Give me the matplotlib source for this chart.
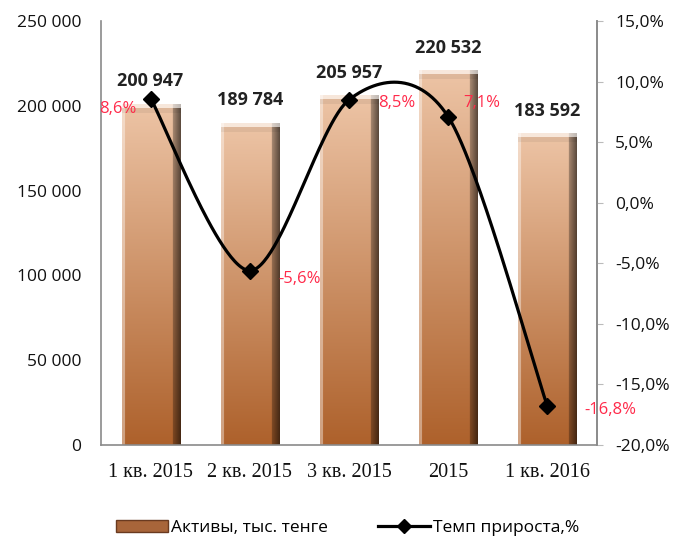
import numpy as np
import matplotlib.pyplot as plt
from matplotlib.patches import Patch
from matplotlib.lines import Line2D

# data
categories = ['1 кв. 2015', '2 кв. 2015', '3 кв. 2015', '2015', '1 кв. 2016']
assets = [200947, 189784, 205957, 220532, 183592]
growth = [8.6, -5.6, 8.5, 7.1, -16.8]
pct_labels = ['8,6%', '-5,6%', '8,5%', '7,1%', '-16,8%']
# label offsets in pixels (as placed in the original)
pct_offsets = [(-33, -10), (50, -8), (48, -3), (34, 14), (63, -4)]

left_ticks = [0, 50000, 100000, 150000, 200000, 250000]
right_ticks = [-20, -15, -10, -5, 0, 5, 10, 15]

SANS = ['Open Sans', 'DejaVu Sans']
SERIF = ['Liberation Serif', 'DejaVu Serif']


def fmt_thousands(v):
    return '{:,}'.format(int(v)).replace(',', ' ')


def fmt_pct(v):
    return '{:.1f}%'.format(v).replace('.', ',')


def bar_image(nh, nw=58):
    # vertical copper gradient, light on top, plus bevelled edges
    top = np.array([0.93, 0.77, 0.65])
    bot = np.array([0.68, 0.38, 0.17])
    t = np.linspace(0, 1, nh)[:, None, None]  # 0 = top row
    img = top * (1 - t) + bot * t
    img = np.repeat(img, nw, axis=1)
    xs = np.arange(nw)
    # dark right bevel
    right = xs >= nw - 8
    img[:, right, :] *= np.linspace(0.7, 0.4, right.sum())[None, :, None]
    # light left edge
    left = xs < 3
    img[:, left, :] = img[:, left, :] * 0.6 + 0.4
    # top bevel: thin highlight, then a soft shade
    img[:4, :, :] = img[:4, :, :] * 0.4 + 0.6
    img[4:9, :, :] *= 0.94
    return np.clip(img, 0, 1)


def smooth_curve(x, y, k=0.15, n=60):
    # bezier smoothing between points, similar to a spreadsheet's smoothed line
    x = np.asarray(x, float)
    y = np.asarray(y, float)
    px = np.concatenate([[x[0]], x, [x[-1]]])
    py = np.concatenate([[y[0]], y, [y[-1]]])
    outx, outy = [], []
    s = np.linspace(0, 1, n)
    for i in range(1, len(px) - 2):
        for p, out in ((px, outx), (py, outy)):
            p0, p1, p2, p3 = p[i - 1], p[i], p[i + 1], p[i + 2]
            c1 = p1 + (p2 - p0) * k
            c2 = p2 - (p3 - p1) * k
            out.extend((1 - s) ** 3 * p1 + 3 * (1 - s) ** 2 * s * c1
                       + 3 * (1 - s) * s ** 2 * c2 + s ** 3 * p2)
    return np.array(outx), np.array(outy)


fig = plt.figure(figsize=(6.78, 5.39), dpi=100)
ax = fig.add_axes([0.149, 0.1744, 0.7315, 0.7866])
ax2 = ax.twinx()

x = np.arange(len(categories))
bw = 0.585
for xi, v in zip(x, assets):
    img = bar_image(int(v / 250000 * 424))
    ax.imshow(img, extent=[xi - bw / 2, xi + bw / 2, 0, v], aspect='auto',
              origin='upper', zorder=2, interpolation='bilinear')
    ax.annotate(fmt_thousands(v), (xi, v), xytext=(0, 23), textcoords='offset pixels',
                ha='center', va='center', fontsize=13, fontweight='bold',
                color='#222222', family=SANS, zorder=5)

ax.set_xlim(-0.5, len(categories) - 0.5)
ax.set_ylim(0, 250000)
ax.set_yticks(left_ticks)
ax.set_yticklabels([fmt_thousands(v) for v in left_ticks], family=SANS, fontsize=12.5)
ax.set_xticks(x)
ax.set_xticklabels(categories, family=SERIF, fontsize=14.5)
ax.tick_params(axis='y', length=0, pad=14, colors='#111111')
ax.tick_params(axis='x', length=0, pad=13, colors='#111111')

# growth line, smoothed
sx, sy = smooth_curve(x, growth)
ax2.plot(sx, sy, color='black', lw=2.3, zorder=3)
ax2.plot(x, growth, ls='none', marker='D', ms=8, color='black', zorder=4)
for xi, g, lab, off in zip(x, growth, pct_labels, pct_offsets):
    ax2.annotate(lab, (xi, g), xytext=off, textcoords='offset pixels',
                 ha='center', va='center', fontsize=12, color='#ff2a4a',
                 family=SANS, zorder=6)
ax2.set_ylim(-20, 15)
ax2.set_yticks(right_ticks)
ax2.set_yticklabels([fmt_pct(v) for v in right_ticks], family=SANS, fontsize=12.5)
ax2.tick_params(axis='y', length=4, pad=9, color='#bbbbbb', labelcolor='#111111')

for a in (ax, ax2):
    a.spines['top'].set_visible(False)
    for s in ('left', 'right', 'bottom'):
        a.spines[s].set_color('#8a8a8a')
        a.spines[s].set_linewidth(1.2)
ax2.spines['left'].set_visible(False)
ax2.spines['bottom'].set_visible(False)

handles = [Patch(facecolor='#a8653a', edgecolor='#6a3a20', lw=1),
           Line2D([0], [0], color='black', lw=2.3, marker='D', ms=7)]
fig.legend(handles, ['Активы, тыс. тенге', 'Темп прироста,%'], loc='center',
           bbox_to_anchor=(0.513, 0.021), ncol=2, frameon=False,
           prop={'family': SANS, 'size': 12.5}, handlelength=3.0,
           handletextpad=0.15, columnspacing=2.9)

fig.savefig('out.png', dpi=100)
